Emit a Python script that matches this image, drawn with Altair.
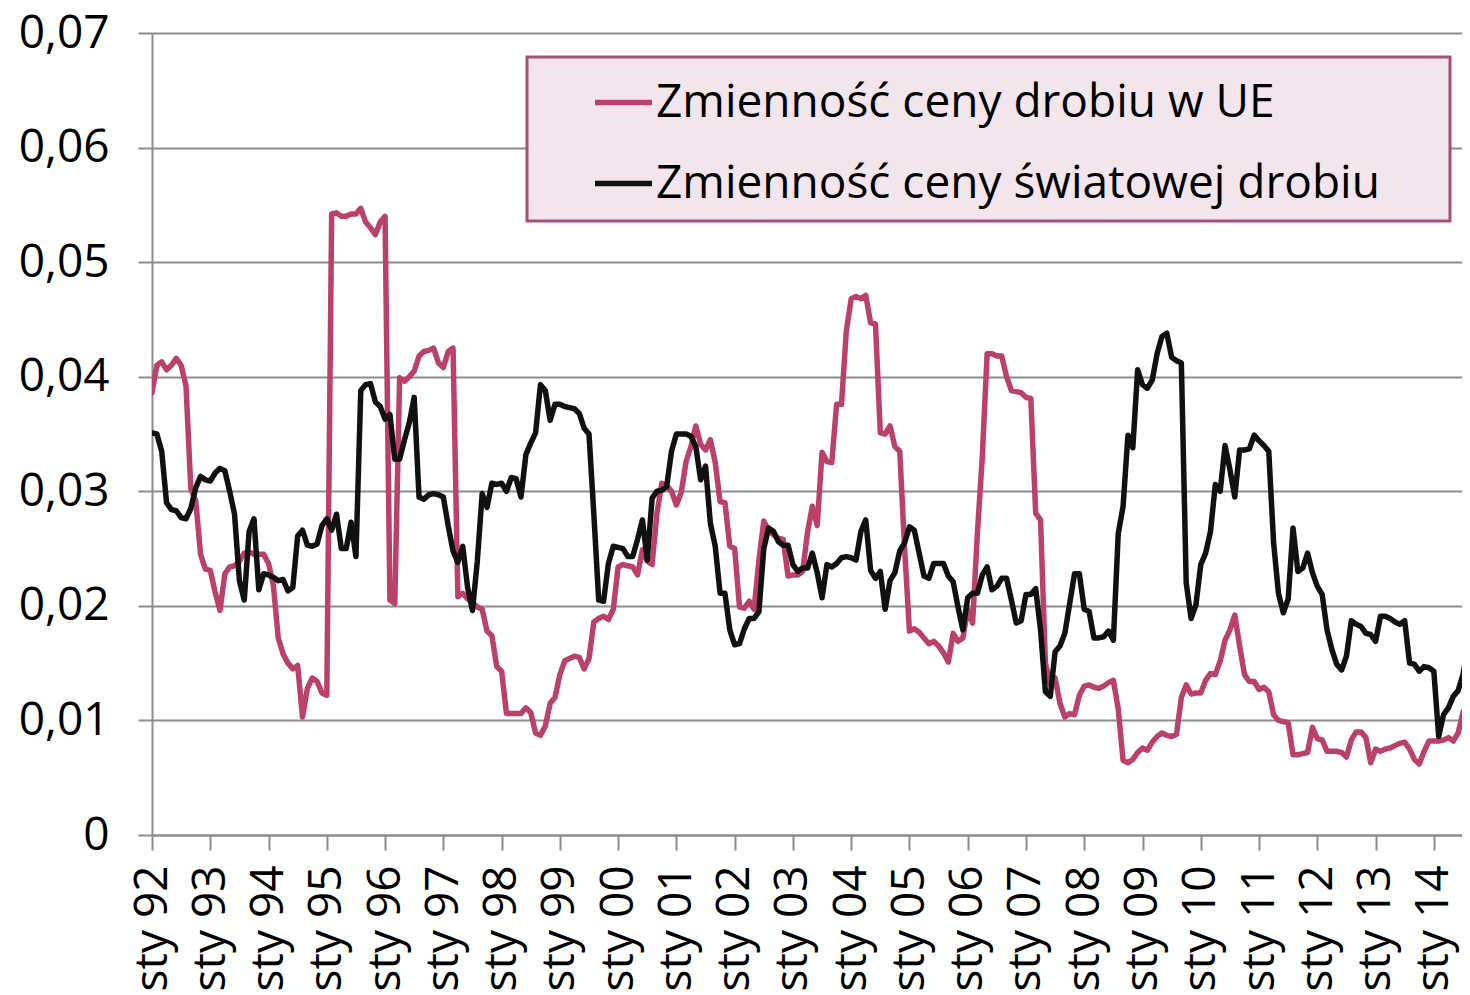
import json
import altair as alt
import pandas as pd

series_names = ["Zmienność ceny drobiu w UE", "Zmienność ceny światowej drobiu"]
series_colors = ["#BC406C", "#111111"]

# monthly values, Jan 1992 - Aug 2014
eu = [
    0.0386, 0.0410, 0.0413, 0.0406, 0.0410, 0.0416, 0.0410, 0.0392, 0.0302, 0.0292, 0.0245, 0.0232,
    0.0231, 0.0212, 0.0196, 0.0228, 0.0234, 0.0235, 0.0239, 0.0246, 0.0247, 0.0245, 0.0245, 0.0245,
    0.0237, 0.0218, 0.0172, 0.0158, 0.0150, 0.0145, 0.0148, 0.0103, 0.0128, 0.0137, 0.0134, 0.0124,
    0.0122, 0.0542, 0.0543, 0.0540, 0.0540, 0.0542, 0.0542, 0.0547, 0.0535, 0.0530, 0.0524, 0.0535,
    0.0540, 0.0205, 0.0202, 0.0399, 0.0396, 0.0400, 0.0405, 0.0418, 0.0422, 0.0423, 0.0425, 0.0412,
    0.0408, 0.0422, 0.0425, 0.0208, 0.0211, 0.0206, 0.0203, 0.0199, 0.0197, 0.0178, 0.0174, 0.0147,
    0.0143, 0.0106, 0.0106, 0.0106, 0.0106, 0.0111, 0.0107, 0.0089, 0.0087, 0.0095, 0.0115, 0.0120,
    0.0140, 0.0152, 0.0154, 0.0156, 0.0155, 0.0145, 0.0154, 0.0186, 0.0189, 0.0191, 0.0188, 0.0197,
    0.0234, 0.0236, 0.0235, 0.0234, 0.0227, 0.0249, 0.0239, 0.0236, 0.0281, 0.0307, 0.0305, 0.0300,
    0.0288, 0.0299, 0.0326, 0.0339, 0.0357, 0.0341, 0.0336, 0.0345, 0.0325, 0.0291, 0.0290, 0.0252,
    0.0250, 0.0199, 0.0198, 0.0204, 0.0197, 0.0240, 0.0274, 0.0266, 0.0262, 0.0259, 0.0258, 0.0226,
    0.0227, 0.0227, 0.0230, 0.0264, 0.0287, 0.0270, 0.0334, 0.0326, 0.0325, 0.0376, 0.0376, 0.0440,
    0.0468, 0.0470, 0.0468, 0.0471, 0.0447, 0.0446, 0.0351, 0.0350, 0.0357, 0.0339, 0.0335, 0.0250,
    0.0178, 0.0180, 0.0177, 0.0172, 0.0167, 0.0169, 0.0165, 0.0159, 0.0151, 0.0176, 0.0169, 0.0172,
    0.0197, 0.0185, 0.0264, 0.0330, 0.0420, 0.0420, 0.0418, 0.0418, 0.0400, 0.0388, 0.0387, 0.0386,
    0.0382, 0.0381, 0.0281, 0.0275, 0.0150, 0.0132, 0.0137, 0.0115, 0.0103, 0.0106, 0.0105, 0.0122,
    0.0130, 0.0131, 0.0129, 0.0128, 0.0130, 0.0133, 0.0135, 0.0110, 0.0065, 0.0063, 0.0066, 0.0072,
    0.0076, 0.0074, 0.0081, 0.0086, 0.0089, 0.0087, 0.0086, 0.0088, 0.0120, 0.0131, 0.0123, 0.0124,
    0.0124, 0.0135, 0.0141, 0.0140, 0.0152, 0.0170, 0.0179, 0.0192, 0.0165, 0.0140, 0.0134, 0.0134,
    0.0127, 0.0129, 0.0125, 0.0105, 0.0100, 0.0099, 0.0098, 0.0070, 0.0070, 0.0071, 0.0072, 0.0094,
    0.0084, 0.0083, 0.0073, 0.0073, 0.0073, 0.0072, 0.0068, 0.0083, 0.0090, 0.0090, 0.0085, 0.0063,
    0.0075, 0.0073, 0.0075, 0.0076, 0.0078, 0.0080, 0.0081, 0.0075, 0.0066, 0.0062, 0.0073, 0.0082,
    0.0082, 0.0082, 0.0083, 0.0085, 0.0082, 0.0089, 0.0107, 0.0115,
]

world = [
    0.0351, 0.0350, 0.0335, 0.0290, 0.0284, 0.0283, 0.0277, 0.0276, 0.0285, 0.0303, 0.0313, 0.0310,
    0.0309, 0.0316, 0.0320, 0.0318, 0.0300, 0.0280, 0.0222, 0.0205, 0.0265, 0.0276, 0.0214, 0.0228,
    0.0227, 0.0225, 0.0222, 0.0223, 0.0213, 0.0216, 0.0261, 0.0266, 0.0253, 0.0252, 0.0254, 0.0270,
    0.0276, 0.0266, 0.0280, 0.0250, 0.0250, 0.0273, 0.0243, 0.0388, 0.0393, 0.0394, 0.0378, 0.0374,
    0.0363, 0.0367, 0.0328, 0.0328, 0.0345, 0.0360, 0.0382, 0.0295, 0.0293, 0.0297, 0.0298, 0.0297,
    0.0295, 0.0270, 0.0248, 0.0238, 0.0252, 0.0216, 0.0196, 0.0239, 0.0298, 0.0286, 0.0307, 0.0306,
    0.0307, 0.0300, 0.0312, 0.0311, 0.0295, 0.0332, 0.0342, 0.0351, 0.0393, 0.0388, 0.0362, 0.0376,
    0.0376, 0.0374, 0.0373, 0.0372, 0.0368, 0.0355, 0.0350, 0.0280, 0.0205, 0.0204, 0.0237, 0.0252,
    0.0251, 0.0250, 0.0243, 0.0243, 0.0258, 0.0275, 0.0240, 0.0294, 0.0300, 0.0301, 0.0304, 0.0335,
    0.0350, 0.0350, 0.0350, 0.0348, 0.0339, 0.0310, 0.0322, 0.0272, 0.0252, 0.0211, 0.0211, 0.0179,
    0.0166, 0.0167, 0.0180, 0.0189, 0.0189, 0.0195, 0.0250, 0.0268, 0.0265, 0.0256, 0.0253, 0.0253,
    0.0236, 0.0230, 0.0233, 0.0233, 0.0246, 0.0229, 0.0207, 0.0236, 0.0234, 0.0237, 0.0242, 0.0243,
    0.0242, 0.0240, 0.0265, 0.0275, 0.0231, 0.0224, 0.0230, 0.0197, 0.0222, 0.0229, 0.0248, 0.0255,
    0.0269, 0.0266, 0.0246, 0.0226, 0.0224, 0.0237, 0.0237, 0.0237, 0.0226, 0.0221, 0.0199, 0.0179,
    0.0207, 0.0211, 0.0211, 0.0227, 0.0234, 0.0214, 0.0217, 0.0224, 0.0224, 0.0205, 0.0185, 0.0187,
    0.0210, 0.0210, 0.0215, 0.0179, 0.0125, 0.0121, 0.0160, 0.0165, 0.0176, 0.0202, 0.0228, 0.0228,
    0.0197, 0.0195, 0.0172, 0.0172, 0.0173, 0.0178, 0.0170, 0.0263, 0.0287, 0.0349, 0.0338, 0.0406,
    0.0393, 0.0390, 0.0397, 0.0420, 0.0435, 0.0438, 0.0417, 0.0414, 0.0412, 0.0220, 0.0189, 0.0201,
    0.0236, 0.0246, 0.0265, 0.0306, 0.0300, 0.0340, 0.0319, 0.0295, 0.0336, 0.0336, 0.0337, 0.0349,
    0.0344, 0.0340, 0.0335, 0.0255, 0.0211, 0.0194, 0.0206, 0.0268, 0.0230, 0.0233, 0.0246, 0.0229,
    0.0217, 0.0210, 0.0179, 0.0162, 0.0149, 0.0144, 0.0156, 0.0187, 0.0184, 0.0182, 0.0176, 0.0175,
    0.0169, 0.0191, 0.0191, 0.0189, 0.0186, 0.0184, 0.0187, 0.0150, 0.0149, 0.0143, 0.0147, 0.0146,
    0.0143, 0.0086, 0.0105, 0.0111, 0.0121, 0.0126, 0.0140, 0.0165,
]

x_tick_labels = ["sty 92", "sty 93", "sty 94", "sty 95", "sty 96", "sty 97", "sty 98",
                 "sty 99", "sty 00", "sty 01", "sty 02", "sty 03", "sty 04", "sty 05",
                 "sty 06", "sty 07", "sty 08", "sty 09", "sty 10", "sty 11", "sty 12",
                 "sty 13", "sty 14"]
y_tick_values = [0, 0.01, 0.02, 0.03, 0.04, 0.05, 0.06, 0.07]
y_tick_labels = ["0", "0,01", "0,02", "0,03", "0,04", "0,05", "0,06", "0,07"]

n = len(eu)
df = pd.DataFrame({
    "m": list(range(n)) * 2,
    "v": eu + world,
    "s": [series_names[0]] * n + [series_names[1]] * n,
})

x_vals = [12 * i for i in range(len(x_tick_labels))]
x_label_expr = json.dumps(x_tick_labels) + "[round(datum.value / 12)]"
y_label_expr = json.dumps(y_tick_labels) + "[round(datum.value * 100)]"

FONT = "Open Sans"
GRAY = "#8C8C8C"
PLOT_W = 1310
X_MAX = 269.8  # visible months across the plot width

chart = alt.Chart(df).mark_line(
    strokeWidth=5.5, strokeJoin="round", strokeCap="round", clip=True
).encode(
    x=alt.X(
        "m:Q",
        scale=alt.Scale(domain=[0, X_MAX], nice=False, zero=False),
        axis=alt.Axis(
            values=x_vals, labelExpr=x_label_expr, labelAngle=270, title=None,
            grid=False, tickSize=15, tickWidth=2, tickColor=GRAY,
            domainColor=GRAY, domainWidth=2, labelFont=FONT, labelFontSize=46,
            labelColor="#000000", labelPadding=15, labelOverlap=False,
            labelFlush=False, labelBound=False,
        ),
    ),
    y=alt.Y(
        "v:Q",
        scale=alt.Scale(domain=[0, 0.07], nice=False),
        axis=alt.Axis(
            values=y_tick_values, labelExpr=y_label_expr, title=None,
            grid=True, gridColor=GRAY, gridWidth=2, tickSize=14, tickWidth=2,
            tickColor=GRAY, domainColor=GRAY, domainWidth=2, labelFont=FONT,
            labelFontSize=46, labelColor="#000000", labelPadding=29,
            labelOverlap=False, labelFlush=False,
        ),
    ),
    color=alt.Color(
        "s:N",
        scale=alt.Scale(domain=series_names, range=series_colors),
        legend=alt.Legend(
            title=None, orient="none", legendX=375, legendY=24,
            fillColor="#F3E5EC", strokeColor="#A64F78", padding=14,
            symbolType="stroke", symbolSize=3249, symbolStrokeWidth=5.5,
            symbolOffset=51, labelFont=FONT, labelFontSize=46,
            labelColor="#000000", labelOffset=1, rowPadding=26, labelLimit=2000,
            labelExpr="datum.label + '\u00a0\u00a0\u00a0\u00a0\u2009\u200b'",
        ),
    ),
).properties(
    width=PLOT_W, height=802,
    autosize=alt.AutoSizeParams(type="none"),
    padding={"left": 144, "top": 25, "right": 0, "bottom": 160},
).configure_view(strokeWidth=0).configure_legend(strokeWidth=3)

chart.save("out.html", embed_options={"renderer": "svg", "actions": False})
